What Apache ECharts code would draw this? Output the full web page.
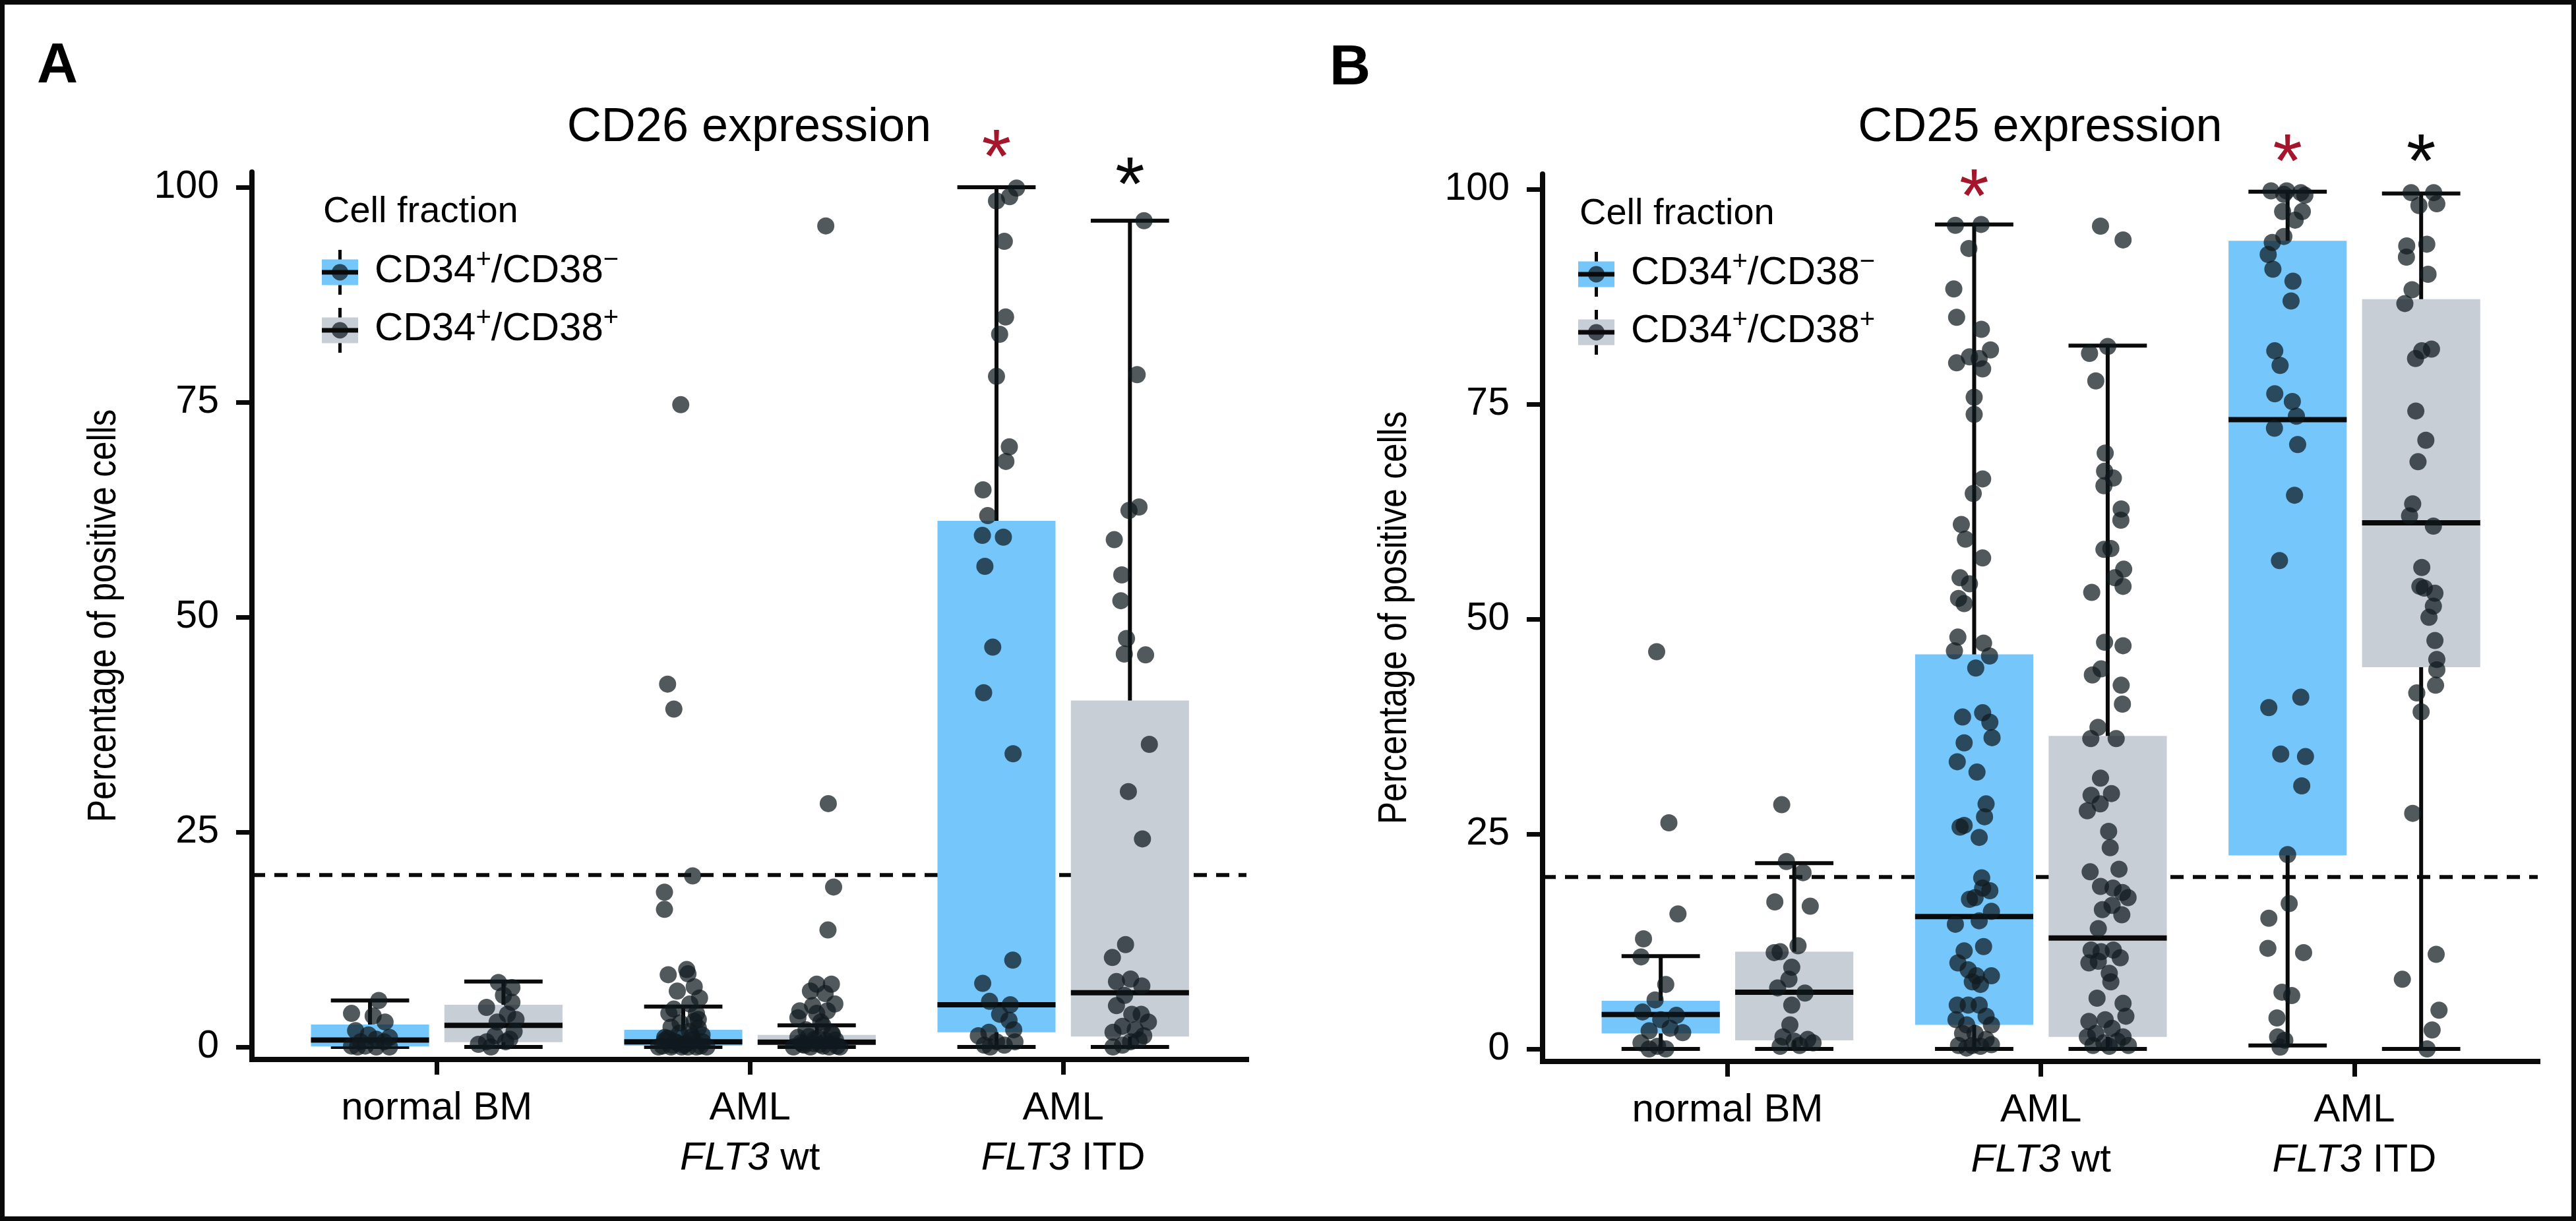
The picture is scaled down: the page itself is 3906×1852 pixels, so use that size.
<!DOCTYPE html>
<html><head><meta charset="utf-8">
<script src="https://cdn.jsdelivr.net/npm/echarts@6/dist/echarts.min.js"></script>
<style>html,body{margin:0;padding:0;background:#fff}#chart{width:3906px;height:1852px}</style>
</head><body><div id="chart"></div>
<script>
// ---------------- DATA ----------------
const categories = ['normal BM', 'AML FLT3 wt', 'AML FLT3 ITD'];
const categoryLabels = ['normal BM', 'AML\n{i|FLT3} wt', 'AML\n{i|FLT3} ITD'];
const fractions = ['CD34+/CD38−', 'CD34+/CD38+'];
const fractionLabels = ['{m|CD34}{s|+}{m|/CD38}{s|−}', '{m|CD34}{s|+}{m|/CD38}{s|+}'];
const yTicks = [0, 25, 50, 75, 100];
const threshold = 20;
const panelTitles = ['CD26 expression', 'CD25 expression'];
const panelLetters = ['A', 'B'];
const yAxisTitle = 'Percentage of positive cells';

// box statistics, order: nBM−, nBM+, wt−, wt+, ITD−, ITD+
const cd26Lower  = [0, 0, 0, 0, 0, 0];
const cd26Q1     = [0.05, 0.55, 0.15, 0.2, 1.7, 1.2];
const cd26Median = [0.8, 2.5, 0.6, 0.55, 4.9, 6.3];
const cd26Q3     = [2.6, 4.9, 2.0, 1.4, 61.2, 40.3];
const cd26Upper  = [5.4, 7.6, 4.7, 2.5, 100, 96.1];

const cd25Lower  = [0, 0, 0, 0, 0.4, 0];
const cd25Q1     = [1.8, 1.0, 2.8, 1.4, 22.5, 44.4];
const cd25Median = [4.0, 6.6, 15.4, 12.9, 73.2, 61.2];
const cd25Q3     = [5.6, 11.3, 45.9, 36.4, 94.0, 87.2];
const cd25Upper  = [10.8, 21.6, 95.9, 81.8, 99.7, 99.5];

// significance marks: [category (1-3), fraction (0/1), y, colour key]
const cd26Stars = [[3, 0, 105.2, 'red'], [3, 1, 102.0, 'black']];
const cd25Stars = [[2, 0, 100.8, 'red'], [3, 0, 104.9, 'red'], [3, 1, 104.9, 'black']];

// individual samples: [jitter offset (category units), percentage]
const cd26NbmNeg = [[0.028,5.4],[-0.059,3.9],[0.01,3.6],[0.048,2.9],[-0.046,1.9],[-0.005,1.4],[0.062,1.1],[0.02,0.9],[-0.03,0.6],[0.045,0.6],[-0.059,0.1],[-0.015,0.1],[0.02,0],[0.062,0],[-0.04,0]];
const cd26NbmPos = [[-0.016,7.5],[0.027,6.9],[0,6.0],[-0.054,4.6],[0.027,5.2],[0.013,3.8],[-0.02,2.9],[0.04,3.2],[0.034,1.8],[-0.027,1.3],[-0.054,0.6],[0.007,0.6],[-0.04,0],[0.02,0.9],[-0.08,0.3]];
const cd26WtNeg = [[-0.008,74.7],[-0.05,42.2],[-0.03,39.3],[0.03,19.9],[-0.06,18.0],[-0.06,16.0],
  [-0.048,8.4],[0.011,9.0],[0.015,8.5],[-0.019,6.5],[0.035,7.0],[0.052,5.7],[0.021,5.0],[-0.046,3.9],[0.042,3.9],[0.048,3.2],[-0.039,2.3],[0.048,2.2],[-0.012,1.6],[-0.059,1.1],[0.028,1.2],[-0.026,0.6],[0.062,0.6],[-0.066,0.1],[0.015,0.0],[-0.039,0],[0.042,0],[-0.005,0],[0.075,0],[-0.079,0],
  [0.005,0.3],[-0.02,0.5],[0.03,0.8],[-0.05,1.0],[0.06,1.4],[-0.035,0.2],[0.055,0.1],[0.01,0.4],[-0.06,0.7],[0.02,1.8],[-0.01,2.8],[0.035,3.0],[-0.03,4.4],[0,0.2]];
const cd26WtPos = [[0.029,95.5],[0.037,28.3],[0.054,18.6],[0.036,13.6],
  [0,7.3],[0.047,7.3],[-0.02,6.5],[0.027,6.2],[0.058,5.0],[-0.013,4.8],[-0.054,4.2],[0,3.9],[0.034,4.2],[-0.06,3.4],[0.013,2.9],[-0.034,2.0],[0.047,1.6],[-0.06,1.1],[-0.007,0.9],[0.06,0.8],[-0.04,0.2],[0.02,0.1],[-0.074,0],[-0.02,0],[0.04,0],[0.074,0],
  [0.01,0.3],[-0.05,0.5],[0.03,0.7],[-0.025,1.2],[0.05,1.5],[0.065,0.1],[-0.01,0.4],[0.02,2.5],[-0.045,0.3],[0.005,1.0]];
const cd26ItdNeg = [[0.064,99.9],[0.042,98.9],[0,98.4],[0.025,93.7],[0.029,84.9],[0.01,82.9],[0,78.0],[0.041,69.8],[0.03,68.1],[-0.043,64.8],[-0.028,61.8],[-0.045,59.5],[0.022,59.3],[-0.037,55.9],[-0.012,46.5],[-0.041,41.2],[0.053,34.1],[0.052,10.1],[-0.044,7.4],[-0.022,5.3],[0.044,4.9],[0.01,3.8],[0.04,3.1],[-0.058,1.3],[-0.024,1.7],[0.055,2.0],[0,0.6],[-0.039,0.2],[0.025,0.2],[0.059,0.6],[-0.02,0]];
const cd26ItdPos = [[0.045,96.1],[0.023,78.2],[0.029,62.8],[-0.003,62.4],[-0.05,59.0],[-0.026,54.9],[-0.029,51.9],[-0.011,47.5],[-0.018,45.7],[0.05,45.6],[0.062,35.2],[-0.005,29.7],[0.04,24.2],[-0.014,11.9],[-0.056,10.4],[-0.043,7.6],[0.002,7.9],[0.038,7.1],[-0.017,6.0],[-0.043,4.8],[0.006,3.8],[0.036,3.8],[-0.024,2.4],[0.059,2.9],[0.017,2.0],[-0.054,1.7],[0.044,1.3],[0.002,0.6],[-0.024,0.2],[0.029,0.8],[-0.054,0]];

const cd25NbmNeg = [[-0.013,46.2],[0.026,26.3],[0.055,15.7],[-0.055,12.8],[-0.063,10.7],[0.016,7.5],[-0.018,5.7],[-0.058,4.3],[0.05,3.9],[0,3.4],[0.03,2.4],[-0.037,2.1],[0.07,1.9],[-0.063,0.7],[-0.01,0.3],[0.016,0],[-0.037,0]];
const cd25NbmPos = [[-0.04,28.4],[-0.025,21.8],[0.028,20.5],[-0.062,17.1],[0.051,16.6],[0.012,12.0],[-0.045,11.3],[-0.064,11.2],[-0.008,9.5],[-0.017,8.1],[-0.053,7.1],[0.034,6.5],[-0.008,5.1],[-0.014,2.8],[-0.036,1.4],[0.043,1.1],[0,0.9],[0.06,0.7],[0.017,0.4],[-0.045,0.3]];
const cd25WtNeg = [[-0.06,95.8],[0.022,95.9],[-0.017,93.1],[-0.065,88.4],[-0.056,85.1],[0.023,83.7],[0.052,81.3],[-0.056,79.8],[-0.015,80.5],[0.016,80.3],[0.027,79.1],[0,75.8],[0,73.8],[0.027,66.3],[-0.003,64.6],[-0.041,61.0],[-0.028,59.3],[0.027,57.1],[-0.045,54.8],[-0.015,54.1],[-0.05,52.4],[-0.032,51.8],[-0.052,47.9],[0.03,47.2],[-0.063,46.3],[0.049,45.7],[0.005,44.3],[-0.037,38.6],[0.027,39.1],[0.05,38.0],[0.057,36.2],[-0.032,35.6],[-0.054,33.4],[0.009,32.2],[0.038,28.5],[0.033,27.0],[-0.045,25.8],[-0.032,26.0],[0.016,24.6],[0.024,19.9],[0.027,18.7],[0.05,18.4],[-0.015,17.4],[0.003,17.6],[0.055,16.0],[-0.06,14.5],[0.016,14.9],[0.03,11.9],[-0.032,11.4],[-0.052,10.0],[-0.019,9.2],[0.007,8.5],[0.055,8.5],[-0.006,7.8],[0.02,7.5],[-0.054,5.1],[-0.019,5.1],[0.016,5.1],[0.038,3.8],[-0.058,3.4],[-0.024,2.8],[0.055,2.8],[-0.037,1.8],[0.003,1.8],[0.038,1.1],[-0.05,0.4],[-0.006,0.4],[0.02,0.3],[0.055,0.5],[-0.024,0.1]];
const cd25WtPos = [[-0.023,95.7],[0.049,94.1],[-0.058,80.9],[0,81.7],[-0.038,77.7],[-0.008,69.3],[-0.01,67.2],[0.018,66.4],[-0.012,65.5],[0.043,62.8],[0.042,61.5],[-0.012,58.1],[0.01,58.2],[0.051,55.8],[-0.051,53.1],[0.023,54.8],[0.049,53.8],[-0.01,47.3],[0.049,46.9],[-0.021,44.2],[-0.049,43.5],[0.043,42.3],[0.047,40.1],[-0.031,37.4],[-0.054,36.1],[0.027,36.1],[-0.023,31.5],[-0.065,27.7],[-0.053,29.5],[-0.024,28.5],[0.012,29.7],[0.003,25.3],[0.008,23.4],[-0.056,20.6],[0.036,20.9],[-0.023,18.9],[0.017,18.7],[0.047,18.2],[0.065,17.6],[-0.017,16.2],[0.014,16.7],[0.045,15.6],[-0.03,14.0],[-0.053,11.5],[-0.021,11.3],[0.018,11.5],[0.04,10.6],[-0.06,10.0],[-0.03,10.2],[0.005,8.8],[0.01,7.8],[-0.034,5.9],[0.049,5.3],[-0.06,3.2],[-0.008,3.4],[0.058,3.8],[0.014,2.4],[-0.038,1.8],[-0.065,1.4],[0.049,1.4],[-0.012,0.7],[0.031,0.9],[-0.047,0.4],[0.066,0.4],[0.005,0.3]];
const cd25ItdNeg = [[-0.053,99.8],[-0.003,99.8],[0.042,99.6],[0.055,99.3],[-0.012,99.4],[-0.016,97.4],[0.047,97.4],[0.024,96.4],[-0.012,94.5],[-0.049,93.8],[-0.062,92.4],[-0.047,90.7],[0.017,89.3],[0.011,87.0],[-0.041,81.2],[-0.024,79.5],[-0.041,76.2],[0.015,75.3],[0.028,73.6],[-0.042,72.2],[0.032,70.3],[0.022,64.4],[-0.026,56.8],[0.042,40.9],[-0.06,39.7],[-0.022,34.3],[0.057,34.0],[0.045,30.6],[0,22.6],[0.005,16.9],[-0.06,15.2],[-0.063,11.7],[0.051,11.2],[-0.018,6.6],[0.013,6.2],[-0.034,3.6],[-0.032,1.4],[-0.009,1.0],[-0.024,0.2]];
const cd25ItdPos = [[-0.032,99.6],[0.04,99.6],[0.05,98.3],[-0.007,98.1],[-0.046,93.4],[-0.047,92.1],[0.018,93.6],[0.022,90.1],[-0.029,88.3],[-0.052,86.7],[0.002,81.2],[0.033,81.4],[-0.018,80.3],[-0.017,74.2],[0.015,70.8],[-0.01,68.3],[-0.027,63.4],[-0.037,62.0],[0.039,60.8],[0.002,56.0],[-0.004,53.8],[0.01,53.6],[0.044,53.0],[0.039,51.5],[0.025,50.2],[0.044,47.5],[0.05,45.3],[0.05,44.1],[0.046,42.3],[-0.014,41.4],[0,39.2],[-0.027,27.4],[0.048,11.0],[-0.06,8.1],[0.057,4.5],[0.035,2.2],[0.019,0]];

// ---------------- LAYOUT / STYLE ----------------
const FONT = '"Liberation Sans", Arial, Helvetica, sans-serif';
const INK = '#0a0a0a';
const BOX_COLORS = ['#75C6FA', '#C8CED6'];
const POINT_COLOR = 'rgba(15,25,30,0.72)';
const STAR_COLORS = { red: '#A3162B', black: '#0a0a0a' };
const DODGE = 0.213, BOX_W = 0.377, CAP_W = 0.25;
const X_MIN = 0.41, X_MAX = 3.585, Y_MIN = -1.46, Y_MAX = 101.76;
const GRIDS = [
  { left: 382, top: 261, width: 1508, height: 1346 },
  { left: 2339, top: 264, width: 1509, height: 1346 }
];
const LEGEND_POS = [[488, 413], [2393, 416]];

const panels = [
  { lower: cd26Lower, q1: cd26Q1, med: cd26Median, q3: cd26Q3, upper: cd26Upper, stars: cd26Stars,
    points: [cd26NbmNeg, cd26NbmPos, cd26WtNeg, cd26WtPos, cd26ItdNeg, cd26ItdPos] },
  { lower: cd25Lower, q1: cd25Q1, med: cd25Median, q3: cd25Q3, upper: cd25Upper, stars: cd25Stars,
    points: [cd25NbmNeg, cd25NbmPos, cd25WtNeg, cd25WtPos, cd25ItdNeg, cd25ItdPos] }
];

function groupX(cat, frac) { return cat + (frac === 0 ? -DODGE : DODGE); }

const chart = echarts.init(document.getElementById('chart'), null, { renderer: 'canvas' });

const grid = [], xAxis = [], yAxis = [], series = [], graphic = [];

panels.forEach((p, pi) => {
  grid.push(Object.assign({ containLabel: false, outerBoundsMode: 'none' }, GRIDS[pi]));
  xAxis.push({
    type: 'value', gridIndex: pi, min: X_MIN, max: X_MAX,
    splitLine: { show: false },
    axisLine: { show: true, onZero: false, lineStyle: { color: INK, width: 8, cap: 'square' } },
    axisTick: { show: true, customValues: [1, 2, 3], length: 23, lineStyle: { color: INK, width: 7 } },
    axisLabel: {
      customValues: [1, 2, 3], margin: 36, color: '#000', fontFamily: FONT, fontSize: 60, lineHeight: 76,
      formatter: v => categoryLabels[Math.round(v) - 1],
      rich: { i: { fontStyle: 'italic', fontFamily: FONT, fontSize: 60, lineHeight: 76, color: '#000' } }
    }
  });
  yAxis.push({
    type: 'value', gridIndex: pi, min: Y_MIN, max: Y_MAX,
    splitLine: { show: false },
    axisLine: { show: true, onZero: false, lineStyle: { color: INK, width: 8 } },
    axisTick: { show: true, customValues: yTicks, length: 24, lineStyle: { color: INK, width: 7 } },
    axisLabel: { customValues: yTicks, margin: 50, color: '#000', fontFamily: FONT, fontSize: 59 }
  });

  // threshold dashed line
  series.push({
    type: 'custom', xAxisIndex: pi, yAxisIndex: pi, z: 1, silent: true,
    data: [[X_MIN, threshold]],
    renderItem: (params, api) => {
      const cs = params.coordSys;
      const y = api.coord([X_MIN, api.value(1)])[1];
      return { type: 'line', shape: { x1: cs.x, y1: y, x2: cs.x + cs.width, y2: y },
        style: { stroke: INK, lineWidth: 6, lineDash: [20, 14] } };
    }
  });

  // boxes + whiskers
  const boxData = [];
  for (let i = 0; i < 6; i++) {
    const cat = Math.floor(i / 2) + 1, frac = i % 2;
    boxData.push([groupX(cat, frac), p.lower[i], p.q1[i], p.med[i], p.q3[i], p.upper[i], frac]);
  }
  series.push({
    type: 'custom', xAxisIndex: pi, yAxisIndex: pi, z: 2, silent: true,
    data: boxData,
    renderItem: (params, api) => {
      const x = api.value(0);
      const pLo = api.coord([x, api.value(1)]), pQ1 = api.coord([x, api.value(2)]);
      const pMed = api.coord([x, api.value(3)]), pQ3 = api.coord([x, api.value(4)]);
      const pHi = api.coord([x, api.value(5)]);
      const frac = api.value(6);
      const bw = api.size([BOX_W, 0])[0], cw = api.size([CAP_W, 0])[0];
      const ln = (x1, y1, x2, y2, w) => ({ type: 'line', shape: { x1, y1, x2, y2 }, style: { stroke: INK, lineWidth: w } });
      return { type: 'group', children: [
        ln(pLo[0], pLo[1], pHi[0], pHi[1], 6),
        ln(pLo[0] - cw / 2, pLo[1], pLo[0] + cw / 2, pLo[1], 6),
        ln(pHi[0] - cw / 2, pHi[1], pHi[0] + cw / 2, pHi[1], 6),
        { type: 'rect', shape: { x: pQ3[0] - bw / 2, y: pQ3[1], width: bw, height: pQ1[1] - pQ3[1] }, style: { fill: BOX_COLORS[frac] } },
        ln(pMed[0] - bw / 2, pMed[1], pMed[0] + bw / 2, pMed[1], 8)
      ] };
    }
  });

  // individual points
  const pts = [];
  p.points.forEach((arr, i) => {
    const cat = Math.floor(i / 2) + 1, frac = i % 2;
    arr.forEach(([dx, v]) => pts.push([groupX(cat, frac) + dx, v]));
  });
  series.push({
    type: 'scatter', xAxisIndex: pi, yAxisIndex: pi, z: 3, silent: true,
    symbol: 'circle', symbolSize: 26, data: pts,
    itemStyle: { color: POINT_COLOR, borderWidth: 0, opacity: 1 }
  });

  // significance asterisks
  series.push({
    type: 'custom', xAxisIndex: pi, yAxisIndex: pi, z: 4, silent: true, clip: false,
    data: p.stars.map(s => [groupX(s[0], s[1]), s[2], s[3] === 'red' ? 0 : 1]),
    renderItem: (params, api) => {
      const c = api.coord([api.value(0), api.value(1)]);
      return { type: 'text', x: c[0], y: c[1] + 28,
        style: { text: '*', fontFamily: FONT, fontSize: 115, fill: api.value(2) === 0 ? STAR_COLORS.red : STAR_COLORS.black,
          align: 'center', verticalAlign: 'middle' } };
    }
  });

  const g = GRIDS[pi];
  // y-axis title (condensed like the original)
  graphic.push({ type: 'text', x: g.left - 224, y: g.top + g.height / 2, rotation: Math.PI / 2, scaleX: 0.83,
    style: { text: yAxisTitle, fontFamily: FONT, fontSize: 62, fill: '#000', align: 'center', verticalAlign: 'middle' } });

  // panel title
  graphic.push({ type: 'text', x: g.left + g.width / 2, y: 194,
    style: { text: panelTitles[pi], fontFamily: FONT, fontSize: 72, fill: '#000', align: 'center', verticalAlign: 'middle' } });

  // legend
  const [ox, oy] = LEGEND_POS[pi];
  graphic.push({ type: 'text', x: ox + 2, y: oy - 91,
    style: { text: 'Cell fraction', fontFamily: FONT, fontSize: 56, fill: '#000', align: 'left', verticalAlign: 'middle' } });
  fractions.forEach((f, i) => {
    const cy = oy + i * 88, cx = ox + 27.5;
    graphic.push({ type: 'line', shape: { x1: cx, y1: cy - 34, x2: cx, y2: cy + 34 }, style: { stroke: INK, lineWidth: 5 } });
    graphic.push({ type: 'rect', shape: { x: ox, y: cy - 19.5, width: 55, height: 39 }, style: { fill: BOX_COLORS[i] } });
    graphic.push({ type: 'circle', shape: { cx: cx, cy: cy, r: 12.5 }, style: { fill: POINT_COLOR } });
    graphic.push({ type: 'line', shape: { x1: ox, y1: cy, x2: ox + 55, y2: cy }, style: { stroke: INK, lineWidth: 7 } });
    graphic.push({ type: 'text', x: ox + 80, y: cy - 2,
      style: { text: fractionLabels[i], align: 'left', verticalAlign: 'middle',
        rich: {
          m: { fontFamily: FONT, fontSize: 60, lineHeight: 72, fill: '#000' },
          s: { fontFamily: FONT, fontSize: 40, lineHeight: 42, verticalAlign: 'top', fill: '#000' }
        } } });
  });
});

// panel letters
graphic.push({ type: 'text', x: 87, y: 101, style: { text: panelLetters[0], fontFamily: FONT, fontWeight: 'bold', fontSize: 86, fill: '#000', align: 'center', verticalAlign: 'middle' } });
graphic.push({ type: 'text', x: 2047, y: 104, style: { text: panelLetters[1], fontFamily: FONT, fontWeight: 'bold', fontSize: 86, fill: '#000', align: 'center', verticalAlign: 'middle' } });
// outer frame
graphic.push({ type: 'rect', shape: { x: 3.5, y: 3.5, width: 3899, height: 1845 }, style: { fill: 'none', stroke: INK, lineWidth: 7 } });

chart.setOption({
  backgroundColor: '#ffffff',
  animation: false,
  grid, xAxis, yAxis, series, graphic
});
</script></body></html>
